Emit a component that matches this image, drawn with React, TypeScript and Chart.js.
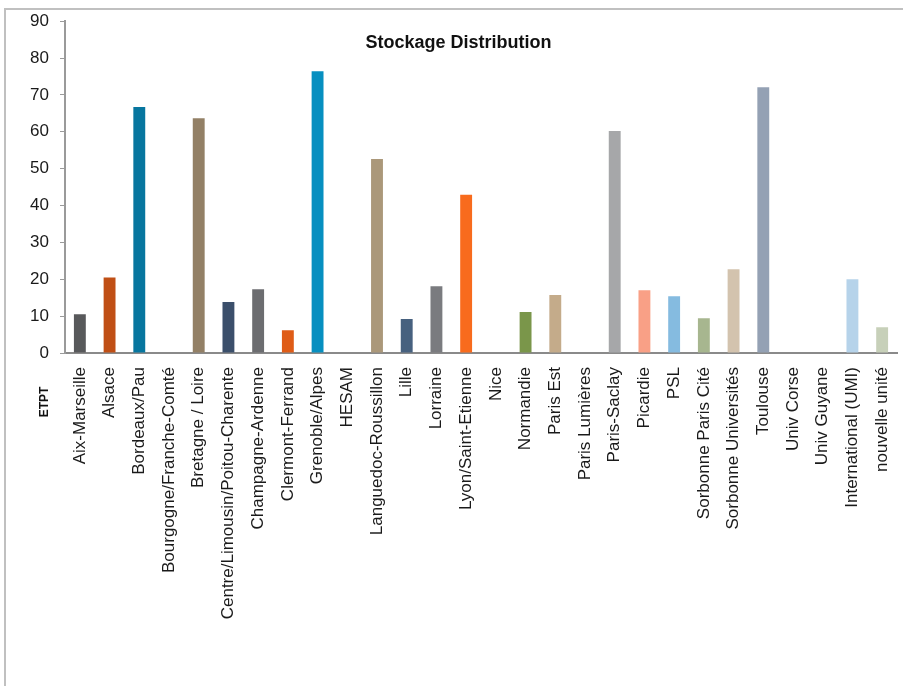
import React, { useEffect, useRef } from "react";
import { Chart, registerables } from "chart.js";

Chart.register(...registerables);

const categories: string[] = [
  "Aix-Marseille",
  "Alsace",
  "Bordeaux/Pau",
  "Bourgogne/Franche-Comté",
  "Bretagne / Loire",
  "Centre/Limousin/Poitou-Charente",
  "Champagne-Ardenne",
  "Clermont-Ferrand",
  "Grenoble/Alpes",
  "HESAM",
  "Languedoc-Roussillon",
  "Lille",
  "Lorraine",
  "Lyon/Saint-Etienne",
  "Nice",
  "Normandie",
  "Paris Est",
  "Paris Lumières",
  "Paris-Saclay",
  "Picardie",
  "PSL",
  "Sorbonne Paris Cité",
  "Sorbonne Universités",
  "Toulouse",
  "Univ Corse",
  "Univ Guyane",
  "International (UMI)",
  "nouvelle unité",
];

const etptValues: number[] = [
  10.5, 20.5, 66.7, 0, 63.7, 13.8, 17.3, 6.2, 76.4, 0, 52.6, 9.2, 18.1, 42.9,
  0, 11.1, 15.7, 0, 60.2, 17.0, 15.4, 9.4, 22.7, 72.1, 0, 0, 20.0, 7.0,
];

const barColors: string[] = [
  "#58595b", "#c04f15", "#07769f", "#4f81bd", "#938066", "#3b4f6b",
  "#6c6d70", "#df5c17", "#078fc0", "#9c8a6e", "#ab987a", "#47617f",
  "#7a7b7f", "#f86b1d", "#2aa0d0", "#7a964a", "#c4ab8a", "#8da0b6",
  "#a6a7a9", "#f9a086", "#85bbe0", "#a7b68f", "#d3c3ae", "#94a1b4",
  "#b0b0b0", "#c0c0c0", "#b6d3ea", "#c7d0b9",
];

const chartTitle = "Stockage Distribution";
const axisTitle = "ETPT";
const yMin = 0;
const yMax = 90;
const yStep = 10;

const FONT = "'Liberation Sans', Arial, sans-serif";

const titlePlugin = {
  id: "customTexts",
  afterDraw(chart: any) {
    const ctx = chart.ctx;
    const area = chart.chartArea;
    ctx.save();
    ctx.fillStyle = "#111111";
    ctx.font = "bold 18px " + FONT;
    ctx.textAlign = "center";
    ctx.textBaseline = "middle";
    ctx.fillText(chartTitle, chart.width / 2 + 7, 43);
    ctx.translate(area.left - 20, area.bottom + 49);
    ctx.rotate(-Math.PI / 2);
    ctx.font = "bold 12px " + FONT;
    ctx.fillText(axisTitle, 0, 0);
    ctx.restore();
  },
};

export default function App() {
  const canvasRef = useRef<HTMLCanvasElement | null>(null);

  useEffect(() => {
    if (!canvasRef.current) return;
    const chart = new Chart(canvasRef.current, {
      type: "bar",
      data: {
        labels: categories,
        datasets: [
          {
            label: axisTitle,
            data: etptValues,
            backgroundColor: barColors,
            borderWidth: 0,
            barPercentage: 0.4,
            categoryPercentage: 1,
          },
        ],
      },
      options: {
        animation: false,
        responsive: false,
        layout: { padding: { top: 20, right: 6, left: 0, bottom: 0 } },
        plugins: {
          legend: { display: false },
          title: { display: false },
          tooltip: { enabled: false },
        },
        scales: {
          x: {
            grid: { display: false, drawTicks: false },
            border: { display: true, color: "#8a8a8a", width: 2 },
            ticks: {
              minRotation: 90,
              maxRotation: 90,
              autoSkip: false,
              padding: 14,
              color: "#1a1a1a",
              font: { family: FONT, size: 17 },
            },
            afterFit(scale: any) {
              scale.height = 333;
              scale.paddingLeft = 0;
              scale.paddingRight = 0;
            },
          },
          y: {
            min: yMin,
            max: yMax,
            grid: {
              drawOnChartArea: false,
              drawTicks: true,
              tickLength: 5,
              color: "#9a9a9a",
            },
            border: { display: true, color: "#9a9a9a", width: 2 },
            ticks: {
              stepSize: yStep,
              padding: 11,
              color: "#1a1a1a",
              font: { family: FONT, size: 17 },
            },
            afterFit(scale: any) {
              scale.width = 65;
            },
          },
        },
      },
      plugins: [titlePlugin],
    });
    return () => chart.destroy();
  }, []);

  return (
    <div style={{ position: "fixed", left: 0, top: 0, width: 903, height: 686, background: "#ffffff" }}>
      <div
        style={{
          position: "absolute",
          left: 4,
          top: 8,
          right: 0,
          bottom: 0,
          borderTop: "2px solid #c0c0c0",
          borderLeft: "2px solid #c0c0c0",
        }}
      />
      <canvas
        ref={canvasRef}
        width={903}
        height={686}
        style={{ position: "absolute", left: 0, top: 0, width: 903, height: 686 }}
      />
    </div>
  );
}
